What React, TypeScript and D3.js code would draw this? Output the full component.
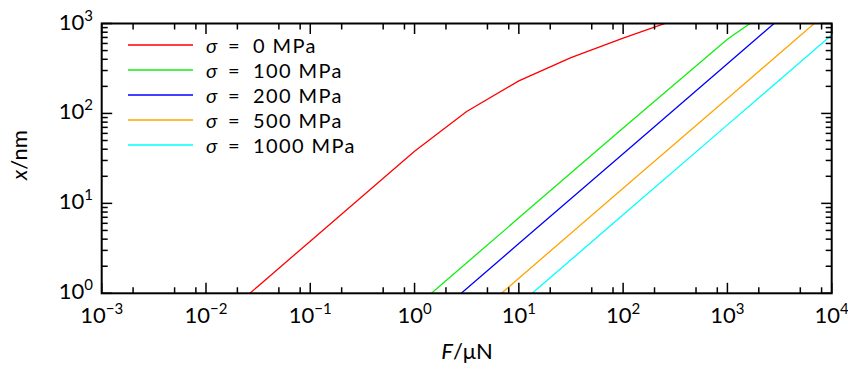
import React from "react";
import * as d3 from "d3";

const W = 848;
const H = 372;
const M = { left: 101.7, right: 848 - 831.7, top: 23.5, bottom: 372 - 293.3 };

const seriesNames = ["0", "100", "200", "500", "1000"];
const seriesColors = ["#ff0000", "#11ee11", "#0000ff", "#ffa500", "#00ffff"];

// F / μN sample points
const F_red = [0.01, 0.0316, 0.1, 0.316, 1, 3.16, 10, 31.6, 100, 316];
const x_red = [0.38, 1.2, 3.8, 12, 38, 105, 230, 418, 686, 1100];
const F_rest = [1, 10, 100, 1000, 10000];
const x_100 = [0.69, 6.9, 69, 668, 4300];
const x_200 = [0.357, 3.57, 35.7, 357, 3570];
const x_500 = [0.147, 1.47, 14.7, 147, 1470];
const x_1000 = [0.0746, 0.746, 7.46, 74.6, 746];

const xMajorExp = [-3, -2, -1, 0, 1, 2, 3, 4];
const yMajorExp = [0, 1, 2, 3];
const xMinorMult = [2, 5, 8];
const yMinorMult = [2, 3, 4, 5, 6, 7, 8, 9];

const FONT = "Lato, 'Open Sans', sans-serif";

function Pow({ exp, x, y, anchor }: { exp: number; x: number; y: number; anchor: string }) {
  const e = exp < 0 ? "\u2212" + Math.abs(exp) : String(exp);
  return (
    <text x={x} y={y} textAnchor={anchor} fontFamily={FONT} fontSize={22} fill="#000">
      10
      <tspan dy={-9} fontSize={15}>{e}</tspan>
    </text>
  );
}

export default function App() {
  const iw = W - M.left - M.right;
  const ih = H - M.top - M.bottom;
  const xs = d3.scaleLog().domain([1e-3, 1e4]).range([M.left, M.left + iw]);
  const ys = d3.scaleLog().domain([1, 1e3]).range([M.top + ih, M.top]);

  const data: [number[], number[]][] = [
    [F_red, x_red],
    [F_rest, x_100],
    [F_rest, x_200],
    [F_rest, x_500],
    [F_rest, x_1000],
  ];

  const line = d3
    .line<[number, number]>()
    .x((d) => xs(d[0]))
    .y((d) => ys(d[1]));

  const xMinor: number[] = [];
  for (let e = -3; e < 4; e++) for (const m of xMinorMult) xMinor.push(m * Math.pow(10, e));
  const yMinor: number[] = [];
  for (let e = 0; e < 3; e++) for (const m of yMinorMult) yMinor.push(m * Math.pow(10, e));

  const x0 = M.left, x1 = M.left + iw, y0 = M.top + ih, y1 = M.top;
  const majL = 10.5, minL = 6;
  const tickStroke = { stroke: "#000", strokeWidth: 1.5 };

  return (
    <svg width={W} height={H} style={{ position: "absolute", left: 0, top: 0, background: "#fff" }}>
      <defs>
        <clipPath id="plotclip">
          <rect x={x0} y={y1} width={iw} height={ih} />
        </clipPath>
      </defs>
      <g clipPath="url(#plotclip)">
        {data.map(([F, X], i) => (
          <path
            key={i}
            d={line(F.map((f, j) => [f, X[j]] as [number, number])) || ""}
            fill="none"
            stroke={seriesColors[i]}
            strokeWidth={1.3}
          />
        ))}
      </g>
      {/* ticks */}
      {xMajorExp.map((e) => {
        const px = xs(Math.pow(10, e));
        return (
          <g key={"xm" + e}>
            <line x1={px} x2={px} y1={y0} y2={y0 - majL} {...tickStroke} />
            <line x1={px} x2={px} y1={y1} y2={y1 + majL} {...tickStroke} />
          </g>
        );
      })}
      {xMinor.map((v, i) => {
        const px = xs(v);
        return (
          <g key={"xn" + i}>
            <line x1={px} x2={px} y1={y0} y2={y0 - minL} {...tickStroke} />
            <line x1={px} x2={px} y1={y1} y2={y1 + minL} {...tickStroke} />
          </g>
        );
      })}
      {yMajorExp.map((e) => {
        const py = ys(Math.pow(10, e));
        return (
          <g key={"ym" + e}>
            <line x1={x0} x2={x0 + majL} y1={py} y2={py} {...tickStroke} />
            <line x1={x1} x2={x1 - majL} y1={py} y2={py} {...tickStroke} />
          </g>
        );
      })}
      {yMinor.map((v, i) => {
        const py = ys(v);
        return (
          <g key={"yn" + i}>
            <line x1={x0} x2={x0 + minL} y1={py} y2={py} {...tickStroke} />
            <line x1={x1} x2={x1 - minL} y1={py} y2={py} {...tickStroke} />
          </g>
        );
      })}
      <rect x={x0} y={y1} width={iw} height={ih} fill="none" stroke="#000" strokeWidth={2} />
      {/* tick labels */}
      {xMajorExp.map((e) => (
        <Pow key={"xl" + e} exp={e} x={xs(Math.pow(10, e))} y={323} anchor="middle" />
      ))}
      {yMajorExp.map((e) => (
        <Pow key={"yl" + e} exp={e} x={93} y={ys(Math.pow(10, e)) + 6} anchor="end" />
      ))}
      {/* axis titles */}
      <text x={467} y={359} textAnchor="middle" fontFamily={FONT} fontSize={22} fill="#000">
        <tspan fontStyle="italic">F</tspan>/μN
      </text>
      <text
        transform={`translate(27,${155}) rotate(-90)`}
        textAnchor="middle"
        fontFamily={FONT}
        fontSize={22}
        fill="#000"
      >
        <tspan fontStyle="italic">x</tspan>/nm
      </text>
      {/* legend */}
      {seriesNames.map((n, i) => {
        const ly = 45 + i * 25;
        return (
          <g key={"lg" + i}>
            <line x1={128} x2={193} y1={ly} y2={ly} stroke={seriesColors[i]} strokeWidth={1.3} />
            <text y={ly + 7.5} fontFamily={FONT} fontSize={20} fill="#000">
              <tspan x={206} fontStyle="italic">σ</tspan>
              <tspan x={228} letterSpacing={0}>=</tspan>
              <tspan x={253} letterSpacing={1.4}>{n} MPa</tspan>
            </text>
          </g>
        );
      })}
    </svg>
  );
}
